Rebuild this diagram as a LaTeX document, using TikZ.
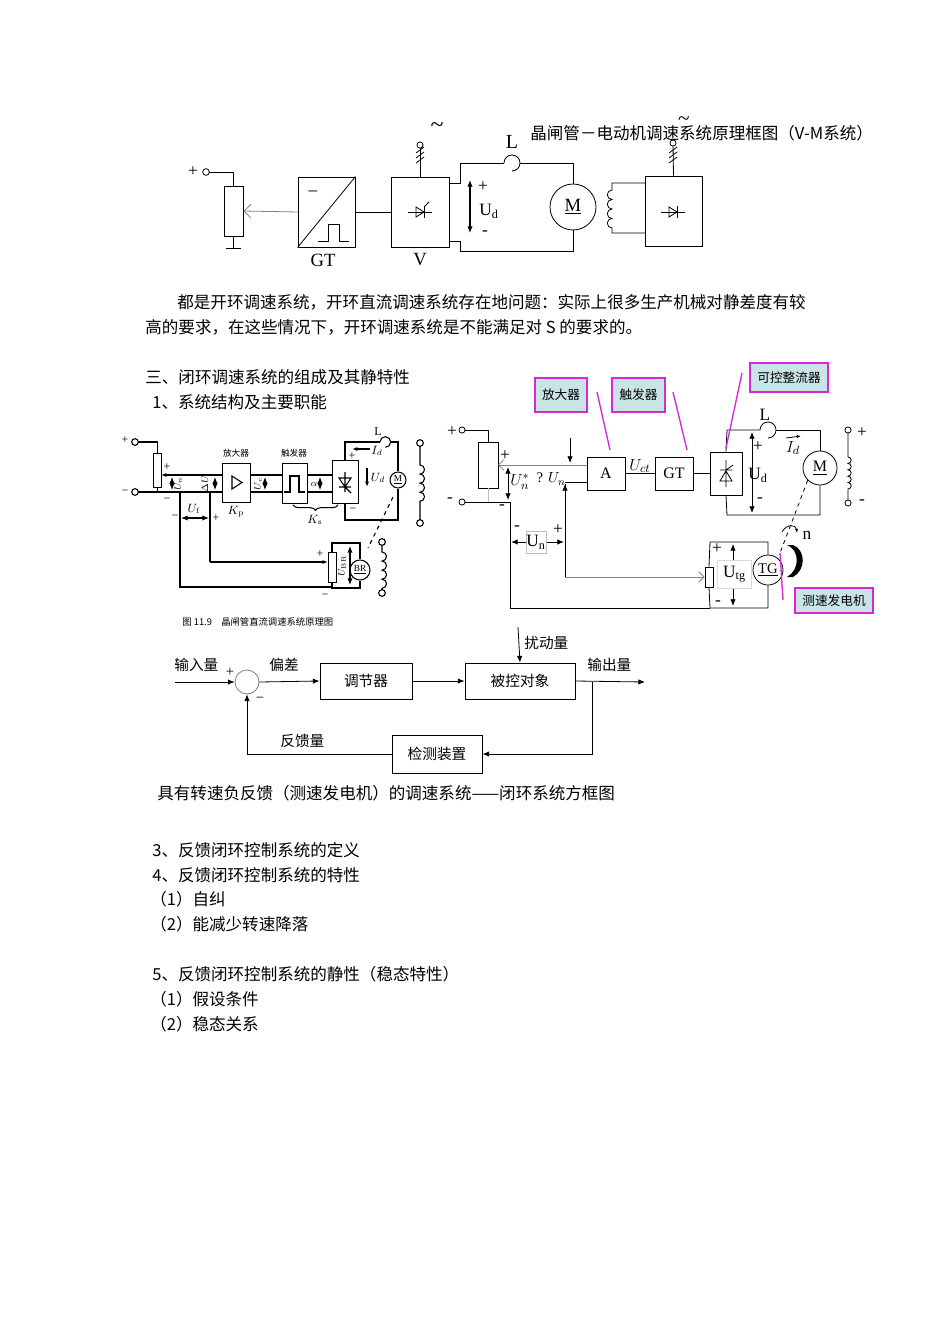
\documentclass[tikz,border=0pt]{standalone}
\usepackage[no-math]{fontspec}
\setmainfont{Noto Sans CJK SC}
\newfontfamily\rmlat{Liberation Serif}
\usetikzlibrary{arrows.meta,decorations.pathreplacing,calc}
\definecolor{mag}{RGB}{214,40,214}
\definecolor{cfill}{RGB}{200,228,228}
\tikzset{
 txt/.style={anchor=west,inner sep=0,font=\fontsize{12.4}{14}\selectfont},
 lb/.style={inner sep=0,font=\rmlat\fontsize{13}{15}\selectfont},
 sm/.style={inner sep=0,font=\rmlat\fontsize{9}{10}\selectfont},
 tiny/.style={inner sep=0,font=\fontsize{6.5}{8}\selectfont},
 bx/.style={draw,inner sep=0,line width=0.7pt},
 call/.style={draw=mag,line width=1pt,fill=cfill,inner sep=0,font=\fontsize{9.5}{11}\selectfont},
 ml/.style={mag,line width=1pt},
 ar/.style={-{Latex[length=5pt,width=4pt]}},
 dar/.style={{Latex[length=5pt,width=4pt]}-{Latex[length=5pt,width=4pt]}},
 thyh/.pic={\draw (-12,0)--(12,0); \draw (-4,-5)--(-4,5)--(4,0)--cycle; \draw (4,-6)--(4,6); \draw (4,-5)--(9,-10);},
 diodeh/.pic={\draw (-12,0)--(12,0); \draw (-4,-5)--(-4,5)--(4,0)--cycle; \draw (4,-6)--(4,6);},
 hatch/.pic={\draw (-4,3)--(4,-3) (-4,8)--(4,2) (-4,13)--(4,7);},
}
\begin{document}
\begin{tikzpicture}[x=0.75pt,y=-0.75pt,line width=0.6pt]
\useasboundingbox[fill=white] (0,0) rectangle (950,1344);

%% ---------- top diagram ----------
\node[txt] (title) at (530,133) {晶闸管－电动机调速系统原理框图（V-M系统）};
\node[lb] (plus0) at (193,172) {+};
\draw (206,172) circle[radius=2.5pt];
\node[bx,minimum width=14.25pt,minimum height=37.5pt] (pot1) at (233.5,211) {};
\draw (209,172)--(233.5,172)--(pot1.north);
\draw (pot1.south)--(233.5,248) (226,248)--(241,248);
\node[bx,minimum width=42.75pt,minimum height=52.5pt] (gt1) at (326.5,212) {};
\draw (gt1.south west)--(gt1.north east);
\node[lb] at (313,193) {–};
\draw (318,241)--(328,241)--(328,224)--(339,224)--(339,241)--(349,241);
\draw[gray,-{Straight Barb[length=5pt]}] (gt1.west)--(pot1.east);
\node[lb,font=\rmlat\fontsize{14}{16}\selectfont] at (323,260) {GT};
\node[bx,minimum width=43.5pt,minimum height=52.5pt] (v1) at (420,212) {};
\draw (gt1.east)--(v1.west);
\pic at (420,212) {thyh};
\draw (v1.north)--(420,148);
\pic at (420,150) {hatch};
\draw (420,145) circle[radius=2.3pt];
\node[lb,font=\rmlat\fontsize{18}{18}\selectfont] at (437,128) {\char"7E};
\node[lb,font=\rmlat\fontsize{14}{16}\selectfont] at (420,260) {V};
\node[draw,circle,minimum size=34.5pt,inner sep=0,font=\rmlat\fontsize{14}{16}\selectfont] (m1) at (573,207) {\underline{M}};
\draw (449,183)--(460,183)--(460,163)--(504,163);
\draw (504,163) arc[start angle=180,end angle=-90,radius=6pt];
\draw (520,163)--(573,163)--(m1.north);
\node[lb,font=\rmlat\fontsize{15}{16}\selectfont] at (512,142) {L};
\draw (449,241)--(460,241)--(460,251)--(573,251)--(m1.south);
\draw[dar,line width=0.8pt] (470,180)--(470,233);
\node[lb] at (483,187) {+};
\node[lb,anchor=west] at (479,211) {U\textsubscript{d}};
\node[lb] at (485,233) {-};
\node[bx,minimum width=42.75pt,minimum height=52.5pt] (ex1) at (673.5,211) {};
\pic at (673,212) {diodeh};
\draw (645,183)--(612,183)--(612,190)
  arc[start angle=90,end angle=270,radius=3.56pt]
  arc[start angle=90,end angle=270,radius=3.56pt]
  arc[start angle=90,end angle=270,radius=3.56pt]
  arc[start angle=90,end angle=270,radius=3.56pt]
  --(612,233)--(645,233);
\draw (ex1.north)--(673,146);
\pic at (673,150) {hatch};
\draw (673,143) circle[radius=2.3pt];
\node[lb,font=\rmlat\fontsize{16}{16}\selectfont] at (684,121) {\char"7E};

%% ---------- paragraph ----------
\node[txt] (p1) at (177,302) {都是开环调速系统，开环直流调速系统存在地问题：实际上很多生产机械对静差度有较};
\node[txt] (p2) at (145,327) {高的要求，在这些情况下，开环调速系统是不能满足对 S 的要求的。};
\node[txt] (p3) at (145,377) {三、闭环调速系统的组成及其静特性};
\node[txt] (p4) at (152,402) {1、系统结构及主要职能};

%% ---------- left scanned diagram ----------
\begin{scope}[line width=0.8pt]
\node[sm] at (125,440) {+};
\node[sm] at (125,492) {−};
\draw (135,442) circle[radius=2.5pt] (135,492) circle[radius=2.5pt];
\node[bx,minimum width=5.5pt,minimum height=25.5pt] (pot2) at (157.5,470) {};
\draw (137.5,442)--(157.5,442)--(pot2.north);
\draw (pot2.south)--(157.5,492);
\node[bx,minimum width=21pt,minimum height=29.25pt] (amp) at (236,482.5) {};
\draw (232,476)--(232,489)--(242,482.5)--cycle;
\draw[-{Latex[length=4pt]}] (222,475)--(161,475);
\draw (137.5,492)--(222,492);
\draw (180,492)--(180,587)--(332,587);
\draw (210,492)--(210,562);
\draw[-{Latex[length=4pt]}] (210,562)--(328,562);
\draw[dar] (172,477)--(172,490);
\node[sm,rotate=90,font=\rmlat\fontsize{7}{8}\selectfont] at (178,484) {$U_n$};
\node[sm] at (167,467) {+};
\node[sm] at (167,500) {−};
\draw[dar] (215,477)--(215,490);
\node[sm,rotate=90,font=\rmlat\fontsize{7}{8}\selectfont] at (205,484) {$\Delta U$};
\draw[dar] (181,518)--(209,518);
\node[sm] at (194,509) {$U_\mathrm{f}$};
\node[sm] at (175,517) {−};
\node[sm] at (216,518) {+};
\node[tiny] at (236,453) {放大器};
\node[sm] at (236,512) {$K_\mathrm{p}$};
\node[bx,minimum width=18.75pt,minimum height=30pt] (trg) at (294.5,483) {};
\draw (284,492)--(290,492)--(290,476)--(299,476)--(299,492)--(305,492);
\node[tiny] at (294,453) {触发器};
\draw (amp.east|-0,475)--(282,475) (amp.east|-0,492)--(282,492);
\draw[dar] (265,477)--(265,490);
\node[sm,rotate=90,font=\rmlat\fontsize{7}{8}\selectfont] at (258,484) {$U_c$};
\node[bx,minimum width=19.5pt,minimum height=32.25pt] (rct) at (345,481.5) {};
\draw (307,475)--(332,475) (307,492)--(332,492);
\draw[dar] (320,477)--(320,490);
\node[sm,font=\rmlat\fontsize{7}{8}\selectfont] at (314,484) {$\alpha$};
\draw (345,472)--(345,492) (339,478)--(351,478)--(345,487)--cycle (339,487)--(351,487) (345,487)--(351,493);
\draw[decorate,decoration={brace,amplitude=4pt,mirror}] (293,505)--(338,505);
\node[sm] at (315,520) {$K_\mathrm{s}$};
\node[draw,circle,minimum size=12pt,inner sep=0,font=\rmlat\fontsize{7}{8}\selectfont] (m3) at (398,480) {\underline{M}};
\draw (rct.north)--(345,442)--(380,442);
\draw (380,442) arc[start angle=180,end angle=-90,radius=4pt];
\draw (391,442)--(398,442)--(m3.north);
\node[sm] at (378,432) {L};
\draw[-{Latex[length=4pt]}] (370,449)--(352,449);
\node[sm] at (377,451) {$I_d$};
\node[sm] at (352,456) {+};
\draw[-{Latex[length=4pt]}] (367,468)--(367,487);
\node[sm] at (378,478) {$U_d$};
\node[sm] at (353,510) {−};
\draw (rct.south)--(345,520)--(398,520)--(m3.south);
\draw (420,443) circle[radius=2.5pt] (420,523) circle[radius=2.5pt];
\draw (420,446)--(420,465)
 arc[start angle=90,end angle=-90,radius=3.4pt]
 arc[start angle=90,end angle=-90,radius=3.4pt]
 arc[start angle=90,end angle=-90,radius=3.4pt]
 arc[start angle=90,end angle=-90,radius=3.4pt]
 --(420,520);
\draw[dashed] (393,497)--(368,548);
\node[draw,circle,minimum size=15pt,inner sep=0,font=\rmlat\fontsize{7}{8}\selectfont] (br) at (360,570) {\underline{BR}};
\node[bx,minimum width=6pt,minimum height=22.5pt] (pot5) at (332,567) {};
\draw (pot5.north)--(332,543)--(360,543)--(br.north);
\draw (pot5.south)--(332,588)--(360,588)--(br.south);
\draw[dar] (350,546)--(350,585);
\node[sm,rotate=90,font=\rmlat\fontsize{7}{8}\selectfont] at (342,566) {$U_\mathrm{BR}$};
\node[sm] at (320,554) {+};
\node[sm] at (325,596) {−};
\draw (382,542) circle[radius=2.5pt] (382,593) circle[radius=2.5pt];
\draw (382,545)--(382,552)
 arc[start angle=90,end angle=-90,radius=3.4pt]
 arc[start angle=90,end angle=-90,radius=3.4pt]
 arc[start angle=90,end angle=-90,radius=3.4pt]
 arc[start angle=90,end angle=-90,radius=3.4pt]
 --(382,590);
\end{scope}
\node[anchor=west,inner sep=0,font=\fontsize{7}{8}\selectfont] (cap1) at (182,622) {图 11.9\quad 晶闸管直流调速系统原理图};

%% ---------- right diagram ----------
\node[call,minimum width=39pt,minimum height=25.5pt] (ca) at (561,395) {放大器};
\node[call,minimum width=39.75pt,minimum height=25.5pt] (cb) at (638.5,395) {触发器};
\node[call,minimum width=58.5pt,minimum height=21.75pt] (cc) at (789,377.5) {可控整流器};
\node[call,minimum width=58.5pt,minimum height=18.75pt] (cd) at (834,600.5) {测速发电机};
\node[lb] at (452,432) {+};
\node[lb] at (450,500) {-};
\draw (462,430) circle[radius=2.3pt] (462,502) circle[radius=2.3pt];
\node[bx,minimum width=15pt,minimum height=34.5pt] (pot3) at (488,465) {};
\draw (465,430)--(488,430)--(pot3.north);
\draw (465,502)--(510,502);
\draw[gray!50] (pot3.south)--(488,502);
\node[bx,minimum width=28.5pt,minimum height=24.75pt] (A) at (606,473.5) {\rmlat\fontsize{12}{14}\selectfont A};
\node[bx,minimum width=28.5pt,minimum height=24.75pt] (gt2) at (674,473.5) {\rmlat\fontsize{12}{14}\selectfont GT};
\node[bx,minimum width=24pt,minimum height=32.25pt] (rc2) at (726,473.5) {};
\draw (726,460)--(726,487) (720,481)--(732,481)--(726,471)--cycle (720,470)--(732,470) (726,470)--(733,465);
\draw[gray,-{Straight Barb[length=4pt]}] (587,465)--(498,465);
\draw[ar] (570,438)--(570,463);
\draw[dar] (508,467)--(508,500);
\node[lb] at (520,482) {$U_n^*$};
\node[lb] at (505,456) {+};
\node[lb] at (502,507) {-};
\node[lb,anchor=east,font=\rmlat\fontsize{11}{13}\selectfont] at (566,479) {? $U_n$};
\draw (565,482)--(587,482);
\draw[ar] (565,507)--(565,484);
\draw (565,484)--(565,577);
\node[bx,minimum width=6pt,minimum height=15pt] (pot4) at (709,577) {};
\draw[gray,-{Straight Barb[length=4pt]}] (565,577)--(pot4.west);
\draw (510,502)--(510,608)--(710,608);
\draw[dar] (511,542)--(564,542);
\node[draw=gray!50,fill=white,minimum width=15pt,minimum height=16pt,inner sep=0,font=\rmlat\fontsize{13}{15}\selectfont] (unb) at (536,542.5) {U\textsubscript{n}};
\node[lb] at (517,528) {-};
\node[lb] at (558,530) {+};
\draw (A.east)--(gt2.west);
\node[lb] at (640,466) {$U_{ct}$};
\draw (gt2.east)--(rc2.west);
\node[draw,circle,minimum size=25.5pt,inner sep=0,font=\rmlat\fontsize{12}{14}\selectfont] (m2) at (820,468) {\underline{M}};
\draw (rc2.north)--(727,430)--(760,430);
\draw (760,430) arc[start angle=180,end angle=-90,radius=6pt];
\draw (776,430)--(820,430)--(m2.north);
\node[lb] at (765,415) {L};
\draw (rc2.south)--(727,515)--(820,515)--(m2.south);
\draw[dar] (752,432)--(752,513);
\node[lb] at (758,447) {+};
\node[lb,anchor=west] at (748,475) {U\textsubscript{d}};
\node[lb] at (760,500) {-};
\node[lb] at (793,448) {$I_d$};
\draw[-{Latex[length=3pt]}] (786,438)--(801,436);
\draw (848,430) circle[radius=2.3pt] (848,503) circle[radius=2.3pt];
\draw (848,433)--(848,457)
 arc[start angle=90,end angle=-90,radius=2.4pt]
 arc[start angle=90,end angle=-90,radius=2.4pt]
 arc[start angle=90,end angle=-90,radius=2.4pt]
 arc[start angle=90,end angle=-90,radius=2.4pt]
 arc[start angle=90,end angle=-90,radius=2.4pt]
 --(848,500);
\node[lb] at (862,433) {+};
\node[lb] at (862,502) {-};
\node[draw,circle,minimum size=22.5pt,inner sep=0,fill=white,font=\rmlat\fontsize{11}{13}\selectfont] (tg) at (768,570) {\underline{TG}};
\draw[dashed] (m2.south west)--(780,553);
\draw[-{Latex[length=3pt]}] (782,532) .. controls (786,524) and (796,524) .. (797,533);
\node[lb] at (807,535) {n};
\fill (787,545) .. controls (800,550) and (800,570) .. (787,577) -- (793,577) .. controls (806,570) and (806,550) .. (793,545) -- cycle;
\draw (pot4.north)--(710,542)--(768,542)--(tg.north);
\draw (pot4.south)--(710,608)--(768,608)--(tg.south);
\draw[dar] (733,544)--(733,606);
\node[draw=gray!30,fill=white,minimum width=26pt,minimum height=21pt,inner sep=0,font=\rmlat\fontsize{13}{15}\selectfont] (utg) at (734.5,574) {U\textsubscript{tg}};
\node[lb] at (717,549) {+};
\node[lb] at (718,603) {-};
\draw[ml] (597,392)--(610,450);
\draw[ml] (673,392)--(687,450);
\draw[ml] (742,373)--(726,448);
\draw[ml] (780,553)--(783,600);

%% ---------- block diagram ----------
\node[draw=gray,circle,minimum size=18pt,inner sep=0] (sum) at (247,682) {};
\node[bx,minimum width=69pt,minimum height=27pt,font=\fontsize{11}{13}\selectfont] (reg) at (366,681) {调节器};
\node[bx,minimum width=82.5pt,minimum height=27pt,font=\fontsize{11}{13}\selectfont] (plant) at (520,681) {被控对象};
\node[bx,minimum width=67.5pt,minimum height=28.5pt,font=\fontsize{11}{13}\selectfont] (det) at (437,754) {检测装置};
\coordinate (in) at (175,682);
\coordinate (out) at (645,682);
\coordinate (dist) at (518,627);
\coordinate (tap) at (592,682);
\draw[ar] (in)--(sum.west);
\draw[ar] (sum.east)--(reg.west);
\draw[ar] (reg.east)--(plant.west);
\draw[ar] (plant.east)--(out);
\draw[ar] (dist)--(plant.north);
\draw[ar] (tap)--(592,754)--(det.east);
\draw[ar] (det.west)--(247,754)--(sum.south);
\node[txt,font=\fontsize{11}{13}\selectfont] at (174,665) {输入量};
\node[sm,font=\rmlat\fontsize{11}{12}\selectfont] at (230,672) {+};
\node[sm,font=\rmlat\fontsize{11}{12}\selectfont] at (260,700) {−};
\node[txt,font=\fontsize{11}{13}\selectfont] at (269,665) {偏差};
\node[txt,font=\fontsize{11}{13}\selectfont] at (524,643) {扰动量};
\node[txt,font=\fontsize{11}{13}\selectfont] at (587,665) {输出量};
\node[txt,font=\fontsize{11}{13}\selectfont] at (280,741) {反馈量};
\node[txt] (cap2) at (157,793) {具有转速负反馈（测速发电机）的调速系统——闭环系统方框图};

%% ---------- text list ----------
\node[txt] at (152,850) {3、反馈闭环控制系统的定义};
\node[txt] at (152,875) {4、反馈闭环控制系统的特性};
\node[txt] at (150,899) {（1）自纠};
\node[txt] at (150,924) {（2）能减少转速降落};
\node[txt] at (152,974) {5、反馈闭环控制系统的静性（稳态特性）};
\node[txt] at (150,999) {（1）假设条件};
\node[txt] at (150,1024) {（2）稳态关系};
\end{tikzpicture}
\end{document}
